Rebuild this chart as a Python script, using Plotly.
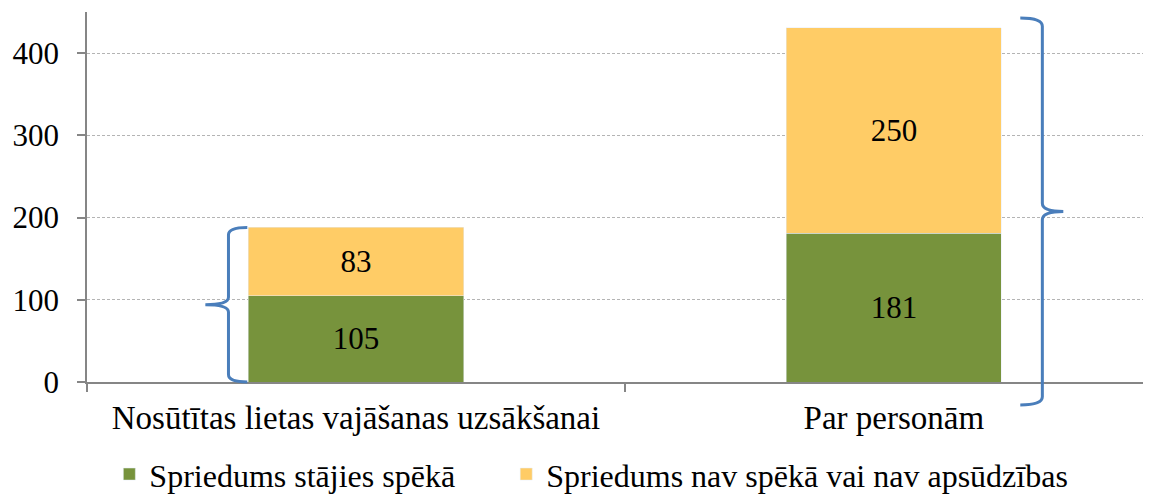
import plotly.graph_objects as go

categories = ["Nosūtītas lietas vajāšanas uzsākšanai", "Par personām"]
series_names = ["Spriedums stājies spēkā", "Spriedums nav spēkā vai nav apsūdzības"]
in_force = [105, 181]
not_in_force = [83, 250]
y_ticks = [0, 100, 200, 300, 400]

GREEN = "#77933C"
YELLOW = "#FFCC66"
BLUE = "#4A7EBB"
FONT = "Liberation Serif"

X_RANGE = [-0.5, 1.478]
Y_RANGE = [0, 450]
BAR_W = 0.4

fig = go.Figure()
fig.add_trace(go.Bar(
    x=categories, y=in_force, name=series_names[0], marker_color=GREEN,
    width=BAR_W, text=in_force, textposition="inside", insidetextanchor="middle",
    textangle=0, textfont=dict(family=FONT, size=31, color="black"),
    constraintext="none", legend="legend",
))
fig.add_trace(go.Bar(
    x=categories, y=not_in_force, name=series_names[1], marker_color=YELLOW,
    width=BAR_W, text=not_in_force, textposition="inside", insidetextanchor="middle",
    textangle=0, textfont=dict(family=FONT, size=31, color="black"),
    constraintext="none", legend="legend2",
))


def px(x):
    return (x - X_RANGE[0]) / (X_RANGE[1] - X_RANGE[0])


def py(y):
    return (y - Y_RANGE[0]) / (Y_RANGE[1] - Y_RANGE[0])


def brace(x_hook, x_vert, x_tip, y0, y1, r=9):
    ym = (y0 + y1) / 2
    pts = [
        ("M", [(x_hook, y1)]),
        ("Q", [(x_vert, y1), (x_vert, y1 - r)]),
        ("L", [(x_vert, ym + r)]),
        ("Q", [(x_vert, ym), (x_tip, ym)]),
        ("Q", [(x_vert, ym), (x_vert, ym - r)]),
        ("L", [(x_vert, y0 + r)]),
        ("Q", [(x_vert, y0), (x_hook, y0)]),
    ]
    s = ""
    for cmd, coords in pts:
        s += cmd + " " + " ".join(f"{px(a):.5f},{py(b):.5f}" for a, b in coords) + " "
    return s.strip()


totals = [a + b for a, b in zip(in_force, not_in_force)]
left_edge = 0 - BAR_W / 2
right_edge = 1 + BAR_W / 2

shapes = [
    dict(type="path", xref="paper", yref="paper",
         path=brace(left_edge - 0.002, left_edge - 0.037, left_edge - 0.08, 0, totals[0]),
         line=dict(color=BLUE, width=3)),
    dict(type="path", xref="paper", yref="paper",
         path=brace(right_edge + 0.035, right_edge + 0.076, right_edge + 0.115,
                    -0.065 * totals[1], totals[1] * 1.027, r=10),
         line=dict(color=BLUE, width=3)),
]

legend_style = dict(orientation="h", y=-0.175, xanchor="left", yanchor="top",
                    font=dict(family=FONT, size=32, color="black"),
                    itemwidth=30, bgcolor="rgba(0,0,0,0)")

fig.update_layout(
    barmode="stack",
    width=1143, height=488,
    margin=dict(l=79, r=0, t=4, b=114, autoexpand=False),
    paper_bgcolor="white", plot_bgcolor="white",
    font=dict(family=FONT, size=31, color="black"),
    bargap=0.6,
    shapes=shapes,
    showlegend=True,
    legend=dict(x=0.021, **legend_style),
    legend2=dict(x=0.394, **legend_style),
)
fig.update_xaxes(
    type="category", range=X_RANGE, showline=True, linecolor="#868686", linewidth=1.5,
    ticks="outside", tickson="boundaries", ticklen=8, tickcolor="#868686", tickwidth=1.5,
    tickfont=dict(family=FONT, size=33, color="black"), showgrid=False, automargin=False,
    ticklabelstandoff=6,
)
fig.update_yaxes(
    range=Y_RANGE, tickvals=y_ticks, showline=True, linecolor="#868686", linewidth=1.5,
    ticks="outside", ticklen=8, tickcolor="#868686", tickwidth=1.5,
    tickfont=dict(family=FONT, size=31, color="black"),
    showgrid=True, gridcolor="#B4B4B4", gridwidth=1, griddash="3px,2px",
    zeroline=False, ticklabelstandoff=12, automargin=False,
)

fig.write_html("out.html")
